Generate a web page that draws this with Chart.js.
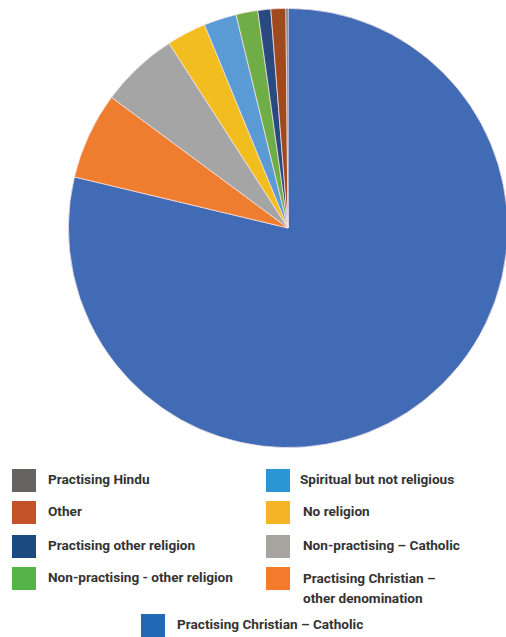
<!DOCTYPE html>
<html>
<head>
<meta charset="utf-8">
<script src="https://cdn.jsdelivr.net/npm/chart.js@4.4.1/dist/chart.umd.min.js"></script>
<style>
  html, body { margin: 0; padding: 0; background: #fff; overflow: hidden; }
  body { width: 506px; height: 637px; position: relative; }
  #wrap { position: absolute; left: 0; top: 0; width: 520px; height: 456px; }
  .item { position: absolute; font-family: Roboto, "Liberation Sans", sans-serif; font-weight: bold;
          font-size: 13.6px; color: #333; line-height: 19px; }
  .box { position: absolute; width: 24px; height: 23px; }
  .lbl { position: absolute; white-space: nowrap; }
</style>
</head>
<body>
<div id="wrap"><canvas id="pie"></canvas></div>
<div id="legend"></div>
<script>
// clockwise from 12 o'clock, values in percent
const categories = [
    'Practising Christian \u2013 Catholic',
    'Practising Christian \u2013 other denomination',
    'Non-practising \u2013 Catholic',
    'No religion',
    'Spiritual but not religious',
    'Non-practising - other religion',
    'Practising other religion',
    'Other',
    'Practising Hindu'
];
const shares = [78.7, 6.4, 5.75, 2.9, 2.4, 1.6, 0.95, 1.1, 0.15];
const sliceColors = ['#416bb5', '#ee7d2f', '#a5a5a5', '#f2bd1e', '#5b9bd5', '#6fad47', '#294a80', '#9e4a1e', '#636363'];
const legendColors = ['#2169b5', '#f47a2c', '#a8a4a0', '#f3b526', '#2a97d4', '#54b349', '#1b4a80', '#c4532a', '#666463'];

// legend slots: [category index, box x, box y, text x]
const legendSlots = [
    [8, 12, 469, 48], [7, 12, 501, 48], [6, 12, 535, 48], [5, 12, 567, 48],
    [4, 266, 469, 300], [3, 266, 501, 303], [2, 266, 535, 303], [1, 266, 567, 303],
    [0, 141, 614, 177]
];

const ctx = document.getElementById('pie').getContext('2d');
const pieChart = new Chart(ctx, {
    type: 'pie',
    data: {
        labels: categories,
        datasets: [{
            data: shares,
            backgroundColor: sliceColors,
            borderColor: 'rgba(250,228,232,0.9)',
            borderWidth: 0.8
        }]
    },
    options: {
        responsive: true,
        maintainAspectRatio: false,
        animation: false,
        layout: { padding: { left: 68, right: 12, top: 8, bottom: 8 } },
        plugins: { legend: { display: false }, tooltip: { enabled: false } }
    }
});

// html legend built from the chart's own labels
const legend = document.getElementById('legend');
legendSlots.forEach(([i, bx, by, tx]) => {
    const box = document.createElement('div');
    box.className = 'box';
    box.style.left = bx + 'px';
    box.style.top = by + 'px';
    box.style.background = legendColors[i];
    legend.appendChild(box);

    const lbl = document.createElement('div');
    lbl.className = 'item lbl';
    lbl.style.left = tx + 'px';
    lbl.style.top = (by + 1) + 'px';
    let text = pieChart.data.labels[i];
    if (i === 1) text = 'Practising Christian \u2013<br>other denomination';
    lbl.innerHTML = text;
    if (i === 1) lbl.style.lineHeight = '20px';
    legend.appendChild(lbl);
});
</script>
</body>
</html>
